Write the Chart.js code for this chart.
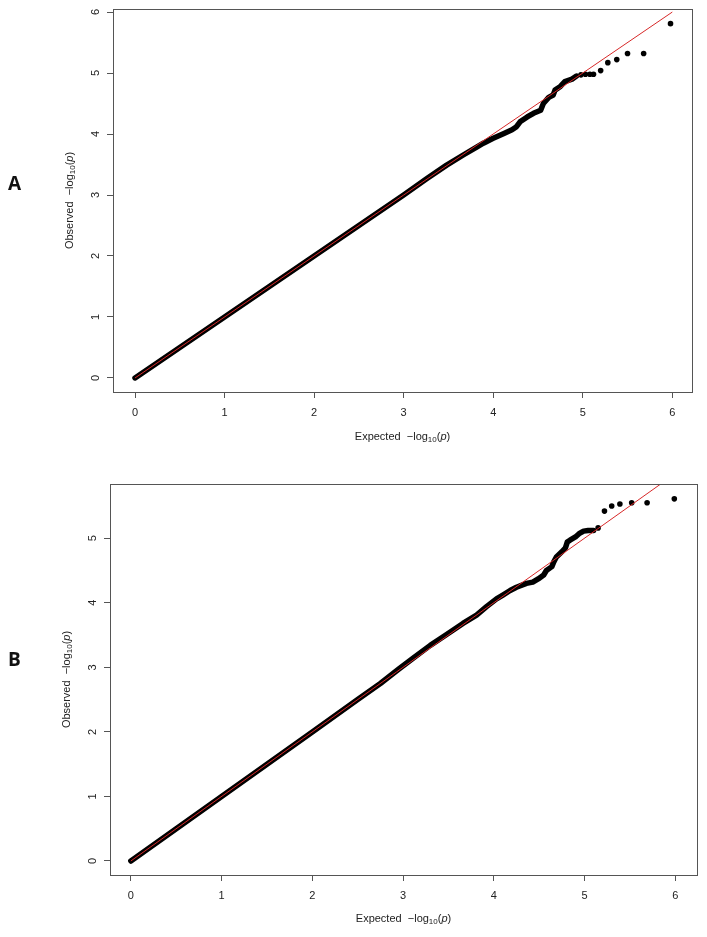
<!DOCTYPE html>
<html>
<head>
<meta charset="utf-8">
<script src="https://cdn.jsdelivr.net/npm/chart.js@4.4.1/dist/chart.umd.min.js"></script>
<style>
body { margin: 0; background: #fff; }
#wrap { position: relative; width: 707px; height: 937px; }
canvas { position: absolute; left: 0; }
.tag { position: absolute; font: bold 19px "Open Sans", sans-serif; color: #111; }
</style>
</head>
<body>
<div id="wrap">
  <canvas id="qqA" width="707" height="460" style="top:0"></canvas>
  <canvas id="qqB" width="707" height="477" style="top:460px"></canvas>
  <div class="tag" style="left:8px;top:170px">A</div>
  <div class="tag" style="left:8px;top:646px">B</div>
</div>
<script>
// ---- data (expected vs observed -log10 p) ----
var xTicks = [0, 1, 2, 3, 4, 5, 6];
var yTicksA = [0, 1, 2, 3, 4, 5, 6];
var yTicksB = [0, 1, 2, 3, 4, 5];

// panel A: dense body of the QQ curve
var aExpBody = [0, 0.5, 1, 1.5, 2, 2.5, 3, 3.26, 3.48, 3.67, 3.82, 3.89, 4.00, 4.12, 4.21, 4.26, 4.30, 4.38, 4.45, 4.53, 4.56, 4.62, 4.67, 4.69, 4.75, 4.80, 4.88, 4.93];
var aObsBody = [0, 0.5, 1, 1.5, 2, 2.5, 3, 3.27, 3.49, 3.66, 3.79, 3.85, 3.93, 4.01, 4.07, 4.12, 4.20, 4.28, 4.34, 4.39, 4.50, 4.60, 4.64, 4.72, 4.78, 4.86, 4.90, 4.95];
// panel A: top SNPs drawn as single dots
var aExpTail = [4.98, 5.03, 5.08, 5.12, 5.20, 5.28, 5.38, 5.50, 5.68, 5.98];
var aObsTail = [4.97, 4.98, 4.98, 4.98, 5.04, 5.17, 5.22, 5.32, 5.32, 5.81];

// panel B
var bExpBody = [0, 0.5, 1, 1.5, 2, 2.5, 2.75, 2.95, 3.11, 3.30, 3.48, 3.66, 3.81, 3.92, 4.03, 4.10, 4.18, 4.25, 4.36, 4.43, 4.49, 4.55, 4.58, 4.64, 4.66, 4.69, 4.75, 4.79, 4.81, 4.84, 4.90, 4.94, 4.99, 5.04, 5.10];
var bObsBody = [0, 0.5, 1, 1.5, 2, 2.5, 2.75, 2.97, 3.14, 3.34, 3.51, 3.68, 3.81, 3.94, 4.06, 4.12, 4.19, 4.24, 4.30, 4.32, 4.37, 4.43, 4.50, 4.56, 4.63, 4.71, 4.79, 4.85, 4.94, 4.97, 5.02, 5.07, 5.11, 5.12, 5.12];
var bExpTail = [5.15, 5.22, 5.30, 5.39, 5.52, 5.69, 5.99];
var bObsTail = [5.16, 5.42, 5.50, 5.53, 5.55, 5.55, 5.61];

// y = x reference line
var diagX = [0, 6];
var diagY = [0, 6];

function pts(xs, ys) {
    var out = [];
    for (var i = 0; i < xs.length; i++) out.push({x: xs[i], y: ys[i]});
    return out;
}

var FONT = '"Liberation Sans", Arial, sans-serif';
var AXIS = '#555';

// draws "<word>  -log10(p)" with subscript and italic p, centred at cx,cy
function logLabel(ctx, word, cx, cy) {
    var parts = [
        [word + '  \u2212log', '11px ' + FONT, 0],
        ['10', '8px ' + FONT, 3],
        ['(', '11px ' + FONT, 0],
        ['p', 'italic 11px ' + FONT, 0],
        [')', '11px ' + FONT, 0]
    ];
    var total = 0;
    parts.forEach(function(p) { ctx.font = p[1]; total += ctx.measureText(p[0]).width; });
    var x = cx - total / 2;
    ctx.textBaseline = 'middle';
    ctx.textAlign = 'left';
    parts.forEach(function(p) {
        ctx.font = p[1];
        ctx.fillText(p[0], x, cy + p[2]);
        x += ctx.measureText(p[0]).width;
    });
}

var qqFrame = {
    id: 'qqFrame',
    afterDraw: function(chart, args, opts) {
        var ctx = chart.ctx, a = chart.chartArea;
        ctx.save();
        ctx.strokeStyle = AXIS;
        ctx.lineWidth = 1;
        ctx.strokeRect(Math.round(a.left) + 0.5, Math.round(a.top) + 0.5,
                       Math.round(a.right - a.left), Math.round(a.bottom - a.top));
        ctx.fillStyle = '#222';
        logLabel(ctx, 'Expected', (a.left + a.right) / 2, opts.xTitleY);
        ctx.translate(opts.yTitleX, (a.top + a.bottom) / 2);
        ctx.rotate(-Math.PI / 2);
        logLabel(ctx, 'Observed', 0, 0);
        ctx.restore();
    }
};

function makeQQ(id, body, tail, yTicks, box) {
    return new Chart(document.getElementById(id), {
        type: 'scatter',
        data: {
            datasets: [
                {
                    data: pts(diagX, diagY),
                    showLine: true,
                    borderColor: 'rgb(215,40,40)',
                    borderWidth: 1,
                    pointRadius: 0
                },
                {
                    data: body,
                    showLine: true,
                    borderColor: '#000',
                    borderWidth: 5.5,
                    borderCapStyle: 'round',
                    borderJoinStyle: 'round',
                    pointRadius: 0
                },
                {
                    data: tail,
                    backgroundColor: '#000',
                    borderWidth: 0,
                    pointRadius: 2.8
                }
            ]
        },
        options: {
            responsive: false,
            animation: false,
            devicePixelRatio: 1,
            layout: { padding: box.pad },
            plugins: {
                legend: { display: false },
                tooltip: { enabled: false },
                qqFrame: { xTitleY: box.xTitleY, yTitleX: box.yTitleX }
            },
            scales: {
                x: {
                    type: 'linear',
                    min: box.xmin, max: box.xmax,
                    afterFit: function(s) { s.height = box.xh; s.paddingLeft = 0; s.paddingRight = 0; },
                    afterBuildTicks: function(s) { s.ticks = xTicks.map(function(v) { return {value: v}; }); },
                    grid: { drawOnChartArea: false, drawTicks: true, tickLength: 6, color: AXIS },
                    border: { display: true, color: AXIS },
                    ticks: { padding: 8, color: '#222', font: { family: FONT, size: 11 }, maxRotation: 0 }
                },
                y: {
                    type: 'linear',
                    min: box.ymin, max: box.ymax,
                    afterFit: function(s) { s.width = box.yw; s.paddingTop = 0; s.paddingBottom = 0; },
                    afterBuildTicks: function(s) { s.ticks = yTicks.map(function(v) { return {value: v}; }); },
                    grid: { drawOnChartArea: false, drawTicks: true, tickLength: 6, color: AXIS },
                    border: { display: true, color: AXIS },
                    ticks: { padding: 8, color: '#222', font: { family: FONT, size: 11 },
                             minRotation: 90, maxRotation: 90, crossAlign: 'center' }
                }
            }
        },
        plugins: [qqFrame]
    });
}

makeQQ('qqA', pts(aExpBody, aObsBody), pts(aExpTail, aObsTail), yTicksA, {
    pad: { left: 0, right: 15, top: 9, bottom: 0 },
    yw: 113, xh: 68,
    xmin: -0.246, xmax: 6.22, ymin: -0.23, ymax: 6.05,
    xTitleY: 437, yTitleX: 70
});

makeQQ('qqB', pts(bExpBody, bObsBody), pts(bExpTail, bObsTail), yTicksB, {
    pad: { left: 0, right: 10, top: 24, bottom: 0 },
    yw: 110, xh: 62,
    xmin: -0.23, xmax: 6.24, ymin: -0.217, ymax: 5.84,
    xTitleY: 459, yTitleX: 67
});
</script>
</body>
</html>
